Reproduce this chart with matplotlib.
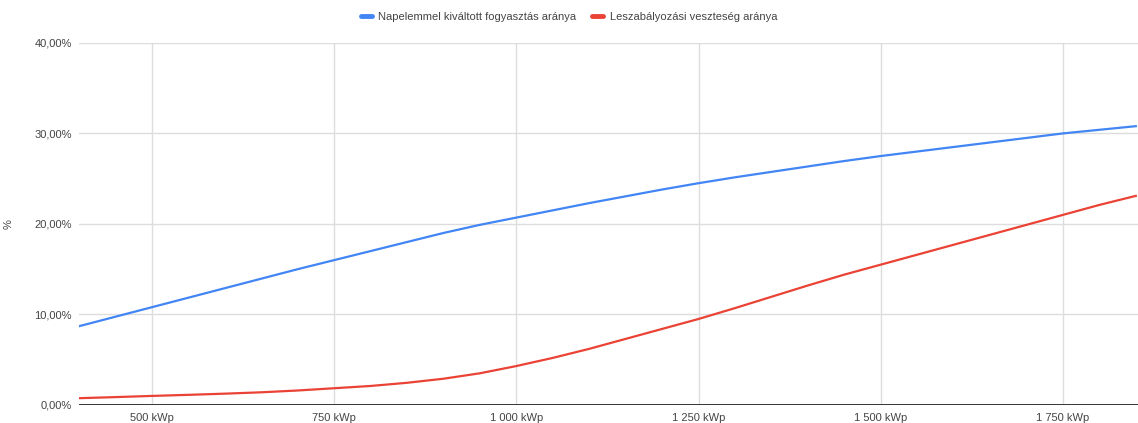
import matplotlib.pyplot as plt
from matplotlib.ticker import FuncFormatter

plt.rcParams['font.family'] = ['Liberation Sans', 'DejaVu Sans']

# Napelem teljesítmény (kWp)
kwp = [400, 450, 500, 550, 600, 650, 700, 750, 800, 850, 900, 950, 1000, 1050,
       1100, 1150, 1200, 1250, 1300, 1350, 1400, 1450, 1500, 1550, 1600, 1650,
       1700, 1750, 1800, 1850]

# Napelemmel kiváltott fogyasztás aránya (%)
kivaltott = [8.7, 9.75, 10.8, 11.85, 12.9, 13.95, 15.0, 16.0, 17.0, 18.0, 19.0,
             19.9, 20.7, 21.5, 22.3, 23.05, 23.8, 24.5, 25.15, 25.75, 26.35,
             26.95, 27.5, 28.0, 28.5, 29.0, 29.5, 30.0, 30.4, 30.8]

# Leszabályozási veszteség aránya (%)
veszteseg = [0.75, 0.87, 1.0, 1.12, 1.25, 1.4, 1.6, 1.85, 2.1, 2.45, 2.9, 3.5,
             4.3, 5.2, 6.2, 7.3, 8.4, 9.5, 10.7, 11.95, 13.2, 14.4, 15.5, 16.6,
             17.7, 18.8, 19.9, 21.0, 22.1, 23.1]

x_ticks = [500, 750, 1000, 1250, 1500, 1750]
y_ticks = [0, 10, 20, 30, 40]

fig = plt.figure(figsize=(11.38, 4.23), dpi=100)
ax = fig.add_axes([0.0694, 0.0426, 0.9306, 0.856])

ax.plot(kwp, kivaltott, color='#4285F4', linewidth=1.6,
        label='Napelemmel kiváltott fogyasztás aránya', solid_joinstyle='round')
ax.plot(kwp, veszteseg, color='#EA4335', linewidth=1.6,
        label='Leszabályozási veszteség aránya', solid_joinstyle='round')

ax.set_xlim(400, 1853)
ax.set_ylim(0, 40)
ax.set_xticks(x_ticks)
ax.set_yticks(y_ticks)


def kwp_fmt(v, pos):
    return f'{int(v):,} kWp'.replace(',', ' ')


def pct_fmt(v, pos):
    return f'{v:.2f}%'.replace('.', ',')


ax.xaxis.set_major_formatter(FuncFormatter(kwp_fmt))
ax.yaxis.set_major_formatter(FuncFormatter(pct_fmt))
ax.tick_params(length=0, labelsize=8, labelcolor='#444444')
ax.tick_params(axis='x', pad=6)
ax.tick_params(axis='y', pad=5)

ax.grid(True, color='#dddddd', linewidth=1)
ax.set_axisbelow(True)
for s in ax.spines.values():
    s.set_visible(False)
ax.axhline(0, color='#333333', linewidth=1.4, zorder=1)

ax.set_ylabel('%', fontsize=8, color='#444444')
ax.yaxis.set_label_coords(-0.062, 0.5)

leg = fig.legend(loc='center', bbox_to_anchor=(0.5, 0.96), ncol=2,
                 frameon=False, fontsize=8, handlelength=1.0,
                 handletextpad=0.6, columnspacing=1.4, labelcolor='#444444')
for h in leg.get_lines():
    h.set_linewidth(3.5)
    h.set_solid_capstyle('round')

plt.savefig('out.png', dpi=100)
